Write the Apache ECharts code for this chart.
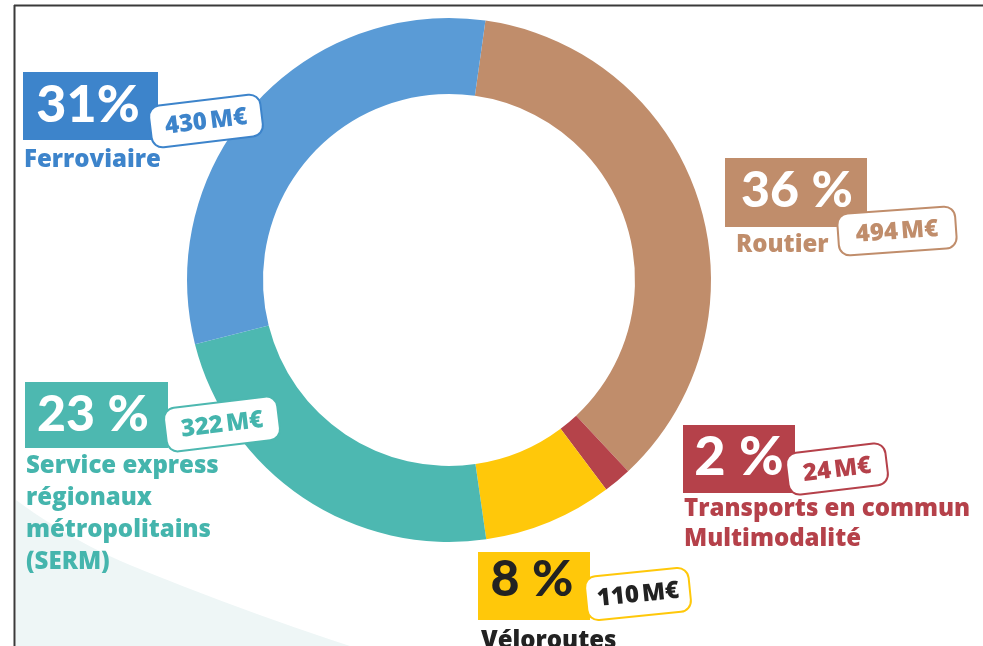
<!DOCTYPE html>
<html><head><meta charset="utf-8">
<script src="https://cdn.jsdelivr.net/npm/echarts@6/dist/echarts.min.js"></script>
<style>html,body{margin:0;padding:0;background:#fff}#c{width:983px;height:646px}</style>
</head><body><div id="c"></div>
<script>
// ---- data ----
const categories = ['Routier', 'Transports en commun\nMultimodalité', 'Véloroutes', 'Service express\nrégionaux\nmétropolitains\n(SERM)', 'Ferroviaire'];
const amounts = [494, 24, 110, 322, 430];
const percentLabels = ['36\u202F%', '2\u202F%', '8\u202F%', '23\u202F%', '31%'];
const amountLabels = ['494\u202FM€', '24\u202FM€', '110\u202FM€', '322\u202FM€', '430\u202FM€'];
const ringColors = ['#C08D6B', '#B5434A', '#FFC80A', '#4DB8B1', '#5A9BD6'];
const boxColors = ['#C08D6B', '#B5414A', '#FFC80A', '#4DB8B0', '#3D84CB'];
const textColors = ['#C08D6B', '#B5414A', '#222222', '#45B5AD', '#3D84CB'];
const pctTextColors = ['#ffffff', '#ffffff', '#222222', '#ffffff', '#ffffff'];

// ---- layout (positions only) ----
const layout = [
  {box: [725, 158, 142, 69], pct: [797, 191], pctSize: 50, badge: [897, 231, 118, 42, 0.07], text: [736, 233], lh: 32},
  {box: [683, 425, 112, 68], pct: [739, 458], pctSize: 54, badge: [837, 469, 100, 42, 0.12], text: [684, 497], lh: 30},
  {box: [478, 552, 112, 68], pct: [532, 580], pctSize: 50, badge: [638, 594, 104, 44, 0.1], text: [481, 629], lh: 32},
  {box: [25, 382, 143, 66], pct: [93, 415], pctSize: 50, badge: [222, 424, 114, 44, 0.12], text: [26, 454], lh: 32},
  {box: [23, 72, 135, 68], pct: [88, 105], pctSize: 52, badge: [206, 121, 112, 42, 0.12], text: [24, 148], lh: 32}
];

const FONT_BIG = '"Lato"';
const FONT_TXT = '"Open Sans"';

// background tint outline (quadratic curve sampled)
function quad(p0, p1, p2, n) {
  const pts = [];
  for (let k = 0; k <= n; k++) {
    const t = k / n, u = 1 - t;
    pts.push([u * u * p0[0] + 2 * u * t * p1[0] + t * t * p2[0], u * u * p0[1] + 2 * u * t * p1[1] + t * t * p2[1]]);
  }
  return pts;
}
const tintPts = [[16, 500]].concat(quad([16, 500], [70, 540], [130, 565], 12)).concat(quad([130, 565], [240, 610], [350, 646], 12)).concat([[16, 646]]);

const graphics = [];
graphics.push({type: 'polygon', z: 0, shape: {points: tintPts}, style: {fill: '#eef6f6'}});
// frame
graphics.push({type: 'line', z: 1, shape: {x1: 14, y1: 5.5, x2: 983, y2: 5.5}, style: {stroke: '#3a3a3a', lineWidth: 2}});
graphics.push({type: 'line', z: 1, shape: {x1: 14.5, y1: 5, x2: 14.5, y2: 646}, style: {stroke: '#3a3a3a', lineWidth: 2}});

categories.forEach((cat, i) => {
  const L = layout[i];
  graphics.push({type: 'rect', z: 10, shape: {x: L.box[0], y: L.box[1], width: L.box[2], height: L.box[3]}, style: {fill: boxColors[i]}});
  graphics.push({type: 'text', z: 11, x: L.pct[0], y: L.pct[1], style: {text: percentLabels[i], fill: pctTextColors[i], font: `900 ${L.pctSize}px ${FONT_BIG}`, textAlign: 'center', textVerticalAlign: 'middle'}});
  const b = L.badge;
  graphics.push({type: 'group', z: 12, x: b[0], y: b[1], rotation: b[4], children: [
    {type: 'rect', z: 12, shape: {x: -b[2] / 2, y: -b[3] / 2, width: b[2], height: b[3], r: 11}, style: {fill: '#ffffff', stroke: boxColors[i], lineWidth: 2}},
    {type: 'text', z: 13, x: 0, y: 1, style: {text: amountLabels[i], fill: textColors[i], font: `800 24px ${FONT_TXT}`, textAlign: 'center', textVerticalAlign: 'middle'}}
  ]});
  cat.split('\n').forEach((line, k) => {
    graphics.push({type: 'text', z: 11, x: L.text[0], y: L.text[1] + k * L.lh, style: {text: line, fill: textColors[i], font: `800 24px ${FONT_TXT}`, textAlign: 'left', textVerticalAlign: 'top'}});
  });
});

const chart = echarts.init(document.getElementById('c'), null, {renderer: 'canvas'});
chart.setOption({
  backgroundColor: '#ffffff',
  animation: false,
  series: [{
    type: 'pie',
    z: 5,
    center: [449, 280],
    radius: [186, 262],
    startAngle: 82,
    clockwise: true,
    silent: true,
    label: {show: false},
    labelLine: {show: false},
    itemStyle: {borderWidth: 0},
    data: categories.map((c, i) => ({name: c, value: amounts[i], itemStyle: {color: ringColors[i]}}))
  }],
  graphic: {elements: graphics}
});
</script>
</body></html>
